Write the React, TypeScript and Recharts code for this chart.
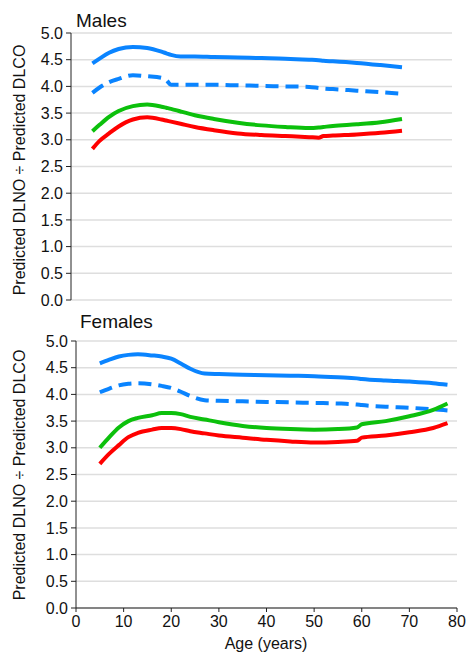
import { CartesianGrid, Line, LineChart, XAxis, YAxis } from "recharts";

// Values (predicted DLNO / predicted DLCO by age).
const maleAges = [4.5, 6, 8, 10, 13, 16, 19, 20, 21, 23, 26, 30, 35, 40, 45, 50, 52, 53, 55, 60, 65, 69.5];
const maleUpper = [4.43, 4.52, 4.63, 4.7, 4.74, 4.72, 4.65, 4.62, 4.59, 4.56, 4.56, 4.55, 4.54, 4.53, 4.52, 4.5, 4.49, 4.48, 4.47, 4.44, 4.4, 4.36];
const maleDashed = [3.88, 3.98, 4.08, 4.14, 4.21, 4.19, 4.16, 4.12, 4.03, 4.03, 4.03, 4.03, 4.02, 4.01, 4.0, 3.99, 3.97, 3.96, 3.95, 3.92, 3.89, 3.86];
const maleGreen = [3.16, 3.28, 3.43, 3.54, 3.63, 3.66, 3.62, 3.6, 3.58, 3.53, 3.46, 3.39, 3.32, 3.27, 3.24, 3.22, 3.23, 3.24, 3.26, 3.29, 3.33, 3.39];
const maleRed = [2.83, 2.98, 3.12, 3.25, 3.38, 3.42, 3.38, 3.36, 3.34, 3.3, 3.24, 3.18, 3.12, 3.09, 3.07, 3.05, 3.04, 3.07, 3.08, 3.1, 3.13, 3.17];

const femaleAges = [5, 7, 9, 11, 13, 16, 18, 20, 22, 24, 27, 30, 35, 40, 45, 50, 55, 59, 60, 65, 70, 75, 78];
const femaleUpper = [4.58, 4.65, 4.71, 4.74, 4.75, 4.73, 4.71, 4.67, 4.58, 4.48, 4.39, 4.38, 4.37, 4.36, 4.35, 4.34, 4.32, 4.3, 4.29, 4.26, 4.24, 4.21, 4.18];
const femaleDashed = [4.04, 4.11, 4.17, 4.2, 4.21, 4.19, 4.16, 4.12, 4.05, 3.97, 3.89, 3.88, 3.87, 3.86, 3.85, 3.84, 3.83, 3.81, 3.8, 3.77, 3.75, 3.72, 3.7];
const femaleGreen = [3.0, 3.2, 3.38, 3.5, 3.56, 3.61, 3.65, 3.65, 3.63, 3.58, 3.53, 3.48, 3.41, 3.37, 3.35, 3.34, 3.35, 3.38, 3.44, 3.5, 3.59, 3.71, 3.83];
const femaleRed = [2.7, 2.89, 3.05, 3.2, 3.28, 3.34, 3.37, 3.37, 3.35, 3.31, 3.27, 3.23, 3.19, 3.15, 3.12, 3.1, 3.11, 3.13, 3.19, 3.23, 3.29, 3.37, 3.46];

const yTicks = [0, 0.5, 1, 1.5, 2, 2.5, 3, 3.5, 4, 4.5, 5];
const xTicks = [0, 10, 20, 30, 40, 50, 60, 70, 80];

const BLUE = "#0a84ff";
const GREEN = "#0cc00c";
const RED = "#ff0000";
const FONT = "'Liberation Sans', Arial, sans-serif";
const YLABEL = "Predicted DLNO \u00f7 Predicted DLCO";

function rows(ages: number[], a: number[], b: number[], c: number[], d: number[]) {
  return ages.map((age, i) => ({ age, upper: a[i], dashed: b[i], green: c[i], red: d[i] }));
}

const maleRows = rows(maleAges, maleUpper, maleDashed, maleGreen, maleRed);
const femaleRows = rows(femaleAges, femaleUpper, femaleDashed, femaleGreen, femaleRed);

const fmtY = (v: number) => v.toFixed(1);

function Series() {
  return [
    <Line key="u" type="monotone" dataKey="upper" stroke={BLUE} strokeWidth={4} dot={false} isAnimationActive={false} />,
    <Line key="d" type="monotone" dataKey="dashed" stroke={BLUE} strokeWidth={4} strokeDasharray="13 7" dot={false} isAnimationActive={false} />,
    <Line key="g" type="monotone" dataKey="green" stroke={GREEN} strokeWidth={4} dot={false} isAnimationActive={false} />,
    <Line key="r" type="monotone" dataKey="red" stroke={RED} strokeWidth={4} dot={false} isAnimationActive={false} />,
  ];
}

function YLabel({ cy }: { cy: number }) {
  return (
    <text
      x={19}
      y={cy}
      transform={`rotate(-90 19 ${cy})`}
      textAnchor="middle"
      dominantBaseline="central"
      fontSize={16}
      fontFamily={FONT}
      fill="#111"
    >
      {YLABEL}
    </text>
  );
}

export default function App() {
  const tickStyle = { fontSize: 16, fill: "#111", fontFamily: FONT };
  return (
    <div style={{ position: "fixed", left: 0, top: 0, width: 467, height: 654, background: "#fff" }}>
      <div style={{ position: "absolute", left: 76, top: 10, fontSize: 19, fontFamily: FONT, color: "#111" }}>
        Males
      </div>
      <div style={{ position: "absolute", left: 0, top: 0 }}>
        <LineChart width={467} height={310} data={maleRows} margin={{ top: 33, right: 15, left: 0, bottom: 10 }}>
          <CartesianGrid vertical={false} stroke="#dedede" strokeWidth={1.5} />
          <XAxis dataKey="age" type="number" domain={[0, 80]} ticks={xTicks} hide />
          <YAxis
            type="number"
            domain={[0, 5]}
            ticks={yTicks}
            tickFormatter={fmtY}
            width={71}
            stroke="#222"
            tickSize={5}
            tickMargin={3}
            tick={tickStyle}
            label={{ content: () => <YLabel cy={170} /> }}
          />
          {Series()}
        </LineChart>
      </div>
      <div style={{ position: "absolute", left: 80, top: 311, fontSize: 19, fontFamily: FONT, color: "#111" }}>
        Females
      </div>
      <div style={{ position: "absolute", left: 0, top: 310 }}>
        <LineChart width={467} height={344} data={femaleRows} margin={{ top: 31, right: 10, left: 0, bottom: 0 }}>
          <CartesianGrid vertical={false} stroke="#dedede" strokeWidth={1.5} />
          <XAxis
            dataKey="age"
            type="number"
            domain={[0, 80]}
            ticks={xTicks}
            height={46}
            stroke="#222"
            tickSize={4}
            tickMargin={4}
            tick={tickStyle}
            label={{
              content: () => (
                <text x={266} y={333} textAnchor="middle" dominantBaseline="central" fontSize={16} fontFamily={FONT} fill="#111">
                  Age (years)
                </text>
              ),
            }}
          />
          <YAxis
            type="number"
            domain={[0, 5]}
            ticks={yTicks}
            tickFormatter={fmtY}
            width={76}
            stroke="#222"
            tickSize={5}
            tickMargin={3}
            tick={tickStyle}
            label={{ content: () => <YLabel cy={165} /> }}
          />
          {Series()}
        </LineChart>
      </div>
    </div>
  );
}
